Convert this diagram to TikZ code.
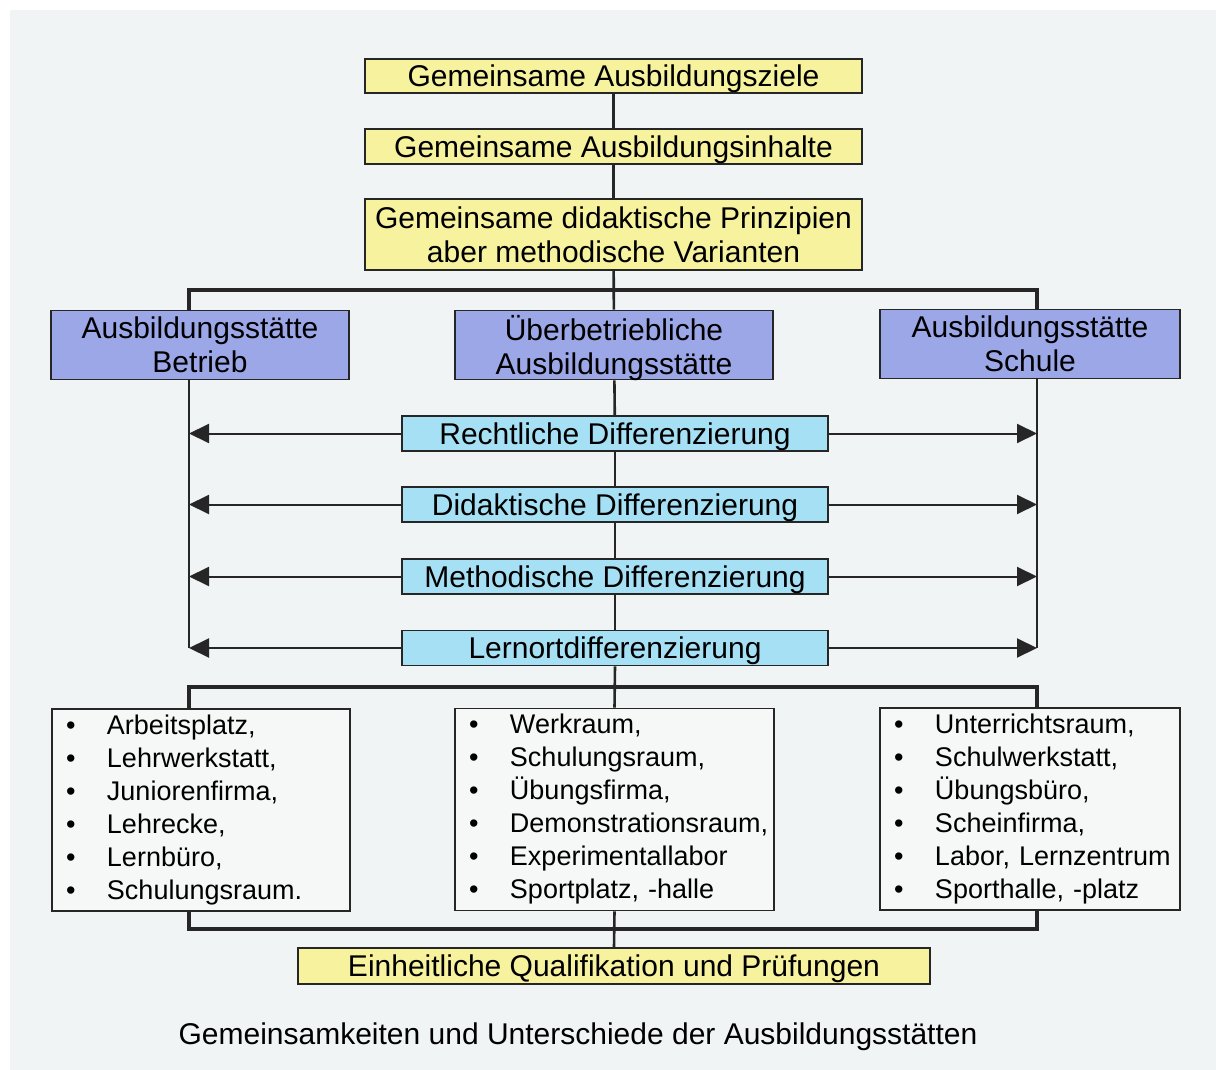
\documentclass[tikz,border=0pt]{standalone}
\usepackage{fontspec}
\setmainfont{Liberation Sans}
\usetikzlibrary{arrows.meta}
\definecolor{paper}{RGB}{240,244,244}
\definecolor{gelb}{RGB}{246,242,158}
\definecolor{blau}{RGB}{156,167,232}
\definecolor{hellblau}{RGB}{166,224,245}
\begin{document}
\begin{tikzpicture}[x=1pt,y=-1pt,
	box/.style={draw=black!85,line width=1.6pt,inner sep=0pt,align=center,text depth=0pt,font=\fontsize{30}{34}\selectfont},
	ziel/.style={box,fill=gelb,minimum width=497pt},
	ort/.style={box,fill=blau,minimum height=69pt},
	diff/.style={box,fill=hellblau,minimum width=426pt,minimum height=35pt},
	liste/.style={draw=black!85,line width=1.6pt,fill=white!40!paper,align=left,inner xsep=14pt,
		minimum height=202pt,font=\fontsize{27}{33}\selectfont},
	linie/.style={line width=2.6pt,black!85},
	balken/.style={line width=3.6pt,black!85},
	pfeil/.style={line width=2pt,black!85,-{Triangle[length=20pt,width=19pt]}}]
	\useasboundingbox (0,0) rectangle (1216,1070);
	\fill[white] (0,0) rectangle (1216,1070);
	\fill[paper] (10,10) rectangle (1216,1070);
	\path (189,290) coordinate (oL) (1037,290) coordinate (oR)
		(189,687) coordinate (mL) (1037,687) coordinate (mR)
		(189,929) coordinate (uL) (1037,929) coordinate (uR);
	% gemeinsame Basis
	\node[ziel,minimum height=34pt] (ziele) at (613.5,76) {Gemeinsame Ausbildungsziele};
	\node[ziel,minimum height=35pt] (inhalte) at (613.5,146.5) {Gemeinsame Ausbildungsinhalte};
	\node[ziel,minimum height=71pt] (prinz) at (613.5,234.5) {Gemeinsame didaktische Prinzipien\\aber methodische Varianten};
	% Lernorte
	\node[ort,minimum width=298pt] (betrieb) at (200,345) {Ausbildungsstätte\\Betrieb};
	\node[ort,minimum width=318pt] (ueber) at (614,345) {Überbetriebliche\\Ausbildungsstätte};
	\node[ort,minimum width=300pt] (schule) at (1030,344) {Ausbildungsstätte\\Schule};
	% Differenzierungen
	\node[diff] (rdiff) at (615,433.5) {Rechtliche Differenzierung};
	\node[diff] (ddiff) at (615,504.5) {Didaktische Differenzierung};
	\node[diff] (mdiff) at (615,576.5) {Methodische Differenzierung};
	\node[diff] (ldiff) at (615,648) {Lernortdifferenzierung};
	% Lernmoeglichkeiten
	\node[liste,minimum width=298pt,text width=270pt] (lbetrieb) at (201,810) {%
		\makebox[41pt][l]{\textbullet}Arbeitsplatz,\\
		\makebox[41pt][l]{\textbullet}Lehrwerkstatt,\\
		\makebox[41pt][l]{\textbullet}Juniorenfirma,\\
		\makebox[41pt][l]{\textbullet}Lehrecke,\\
		\makebox[41pt][l]{\textbullet}Lernbüro,\\
		\makebox[41pt][l]{\textbullet}Schulungsraum.};
	\node[liste,minimum width=319pt,text width=291pt] (lueber) at (614.5,809.5) {%
		\makebox[41pt][l]{\textbullet}Werkraum,\\
		\makebox[41pt][l]{\textbullet}Schulungsraum,\\
		\makebox[41pt][l]{\textbullet}Übungsfirma,\\
		\makebox[41pt][l]{\textbullet}\mbox{Demonstrationsraum,}\\
		\makebox[41pt][l]{\textbullet}Experimentallabor\\
		\makebox[41pt][l]{\textbullet}\mbox{Sportplatz, -halle}};
	\node[liste,minimum width=300pt,text width=272pt] (lschule) at (1030,809) {%
		\makebox[41pt][l]{\textbullet}Unterrichtsraum,\\
		\makebox[41pt][l]{\textbullet}Schulwerkstatt,\\
		\makebox[41pt][l]{\textbullet}Übungsbüro,\\
		\makebox[41pt][l]{\textbullet}Scheinfirma,\\
		\makebox[41pt][l]{\textbullet}\mbox{Labor, Lernzentrum}\\
		\makebox[41pt][l]{\textbullet}\mbox{Sporthalle, -platz}};
	\node[ziel,minimum width=632pt,minimum height=36pt] (quali) at (614,966) {Einheitliche Qualifikation und Prüfungen};
	\node[font=\fontsize{30}{34}\selectfont] (titel) at (578,1037) {Gemeinsamkeiten und Unterschiede der Ausbildungsstätten};
	% Verbindungen
	\draw[linie] (ziele) -- (inhalte);
	\draw[linie] (inhalte) -- (prinz);
	\draw[linie] (prinz) -- (ueber);
	\draw[balken] (betrieb.north -| oL) -- (oL) -- (oR) -- (schule.north -| oR);
	\draw[linie] (ueber) -- (rdiff);
	\draw[linie] (rdiff) -- (ddiff);
	\draw[linie] (ddiff) -- (mdiff);
	\draw[linie] (mdiff) -- (ldiff);
	\draw[linie] (ldiff.south) -- (lueber.north);
	\draw[linie] (betrieb.south -| oL) -- (ldiff.west -| oL);
	\draw[linie] (schule.south -| oR) -- (ldiff.east -| oR);
	\foreach \d in {rdiff,ddiff,mdiff,ldiff}{
		\draw[pfeil] (\d.west) -- (\d.west -| oL);
		\draw[pfeil] (\d.east) -- (\d.east -| oR);
	}
	\draw[balken] (lbetrieb.north -| mL) -- (mL) -- (mR) -- (lschule.north -| mR);
	\draw[balken] (lbetrieb.south -| uL) -- (uL) -- (uR) -- (lschule.south -| uR);
	\draw[linie] (lueber.south) -- (quali.north);
\end{tikzpicture}
\end{document}
